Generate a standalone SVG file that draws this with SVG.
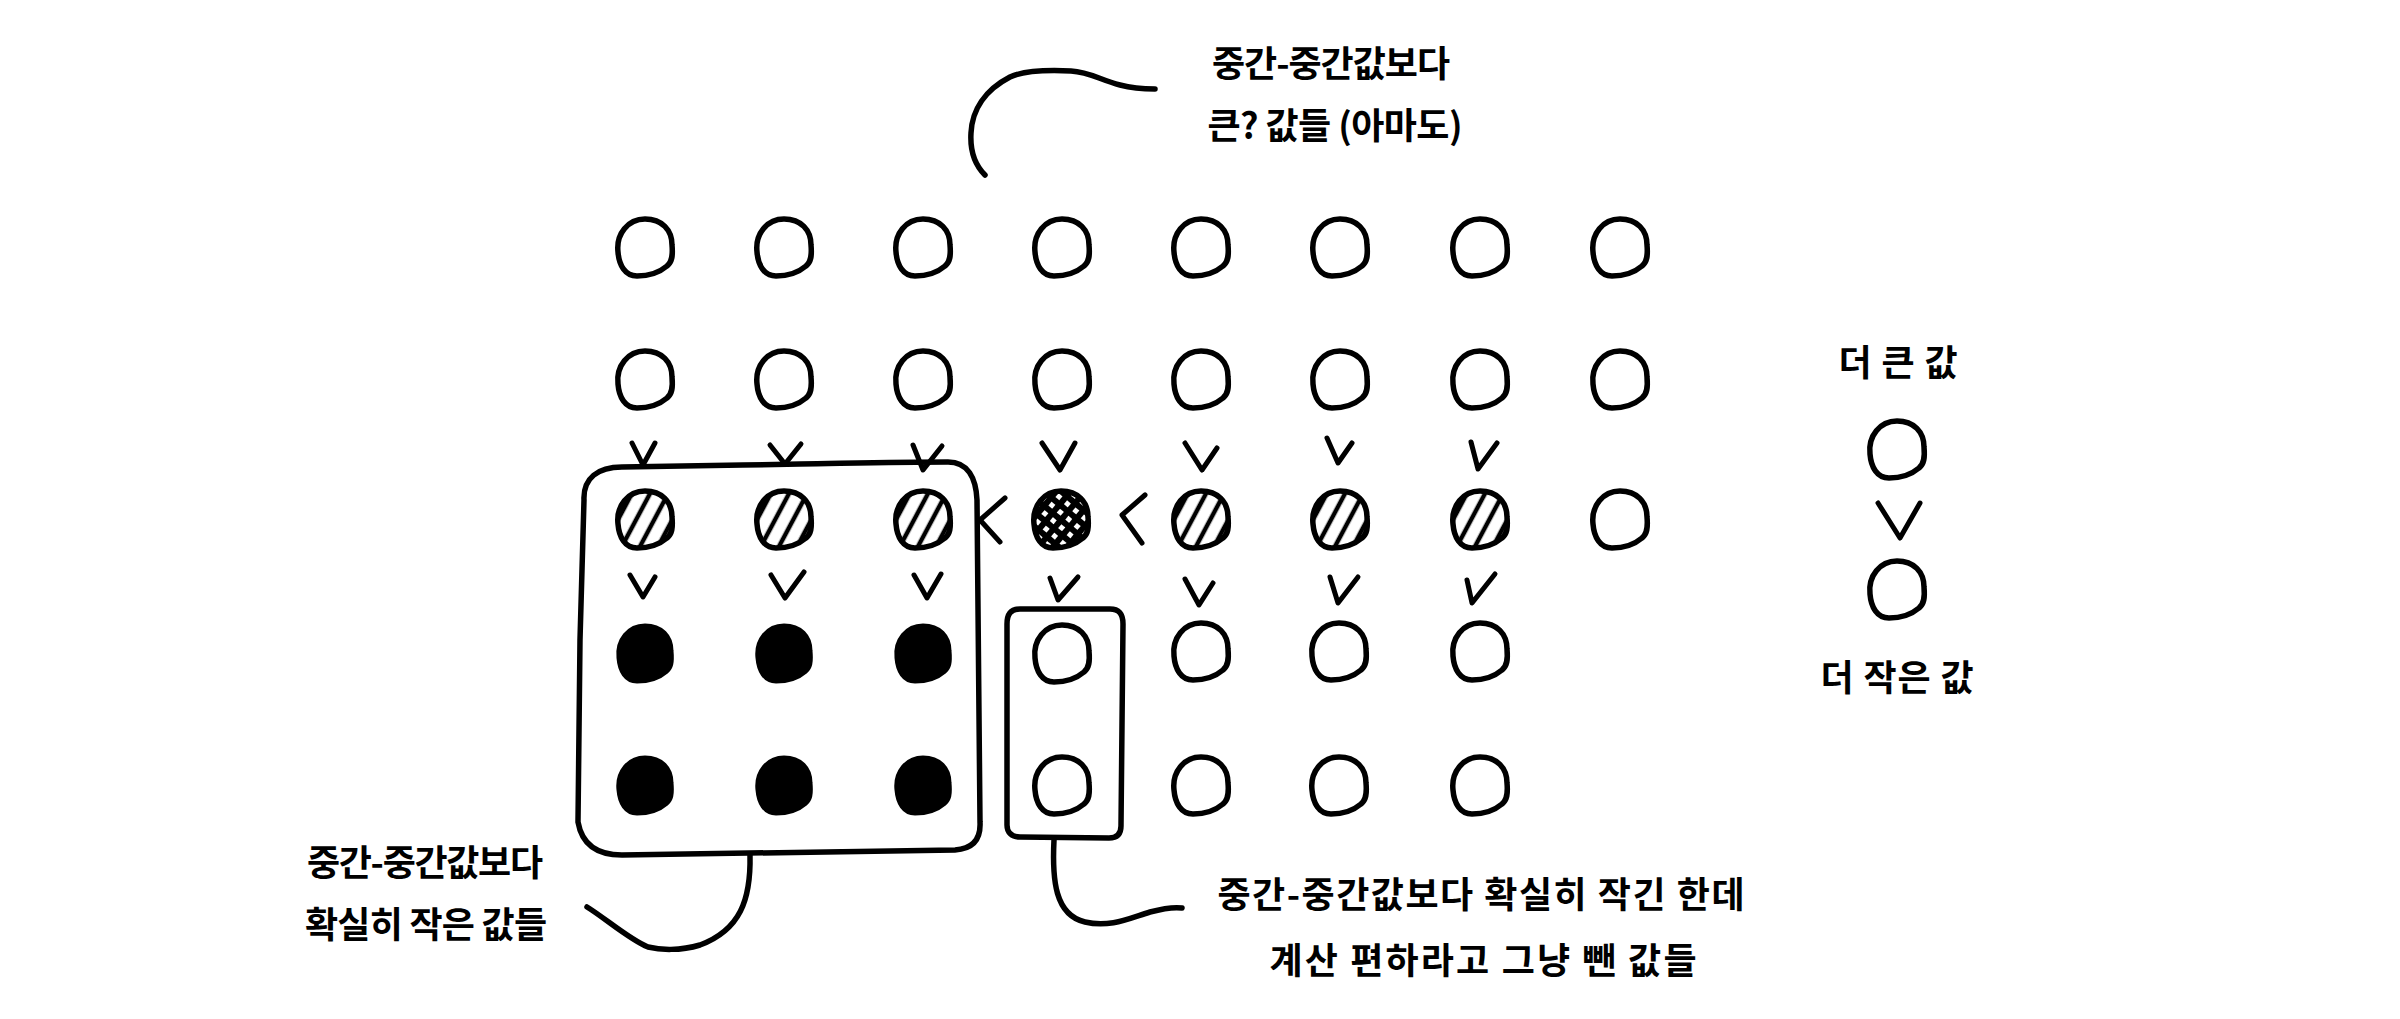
<svg xmlns="http://www.w3.org/2000/svg" xmlns:xlink="http://www.w3.org/1999/xlink" width="2400" height="1019" viewBox="0 0 2400 1019">
<style>
.bg{fill:#ffffff}
.ring{fill:#ffffff;stroke:#000;stroke-width:5.5;stroke-linejoin:round}
.hatched{fill:url(#hatch);stroke:#000;stroke-width:5.5;stroke-linejoin:round}
.cross{fill:url(#crosshatch);stroke:#000;stroke-width:5.5;stroke-linejoin:round}
.solid{fill:#000;stroke:#000;stroke-width:3}
.mark{fill:none;stroke:#000;stroke-width:5;stroke-linecap:round;stroke-linejoin:round}
.box{fill:none;stroke:#000;stroke-width:5.5;stroke-linecap:round;stroke-linejoin:round}
.line{fill:none;stroke:#000;stroke-width:5.5;stroke-linecap:round;stroke-linejoin:round}
.lbl{font-family:"Noto Sans CJK KR","Noto Sans",sans-serif;font-size:36px;font-weight:600;fill:#000;text-anchor:middle}
</style>
<defs>
<path id="blob" d="M -27,4 C -29,-14 -17,-29 0,-29 C 17,-29 27,-18 27,-3 C 28,8 27,14 22,18 C 15,24 4,28 -8,28 C -20,28 -26,17 -27,4 Z"/>
<pattern id="hatch" patternUnits="userSpaceOnUse" width="16" height="40" patternTransform="rotate(28)">
<rect width="16" height="40" fill="#fff"/>
<line x1="8" y1="0" x2="8" y2="40" stroke="#000" stroke-width="4.5"/>
</pattern>
<pattern id="crosshatch" patternUnits="userSpaceOnUse" width="11" height="11" patternTransform="rotate(40)">
<rect width="11" height="11" fill="#000"/>
<rect x="3" y="3" width="5" height="5" fill="#fff"/>
</pattern>
</defs>
<rect class="bg" x="0" y="0" width="2400" height="1019"/>

<g id="row1">
<g id="n1-1"><use href="#blob" class="ring" transform="translate(645,248)"/></g>
<g id="n1-2"><use href="#blob" class="ring" transform="translate(784,248)"/></g>
<g id="n1-3"><use href="#blob" class="ring" transform="translate(923,248)"/></g>
<g id="n1-4"><use href="#blob" class="ring" transform="translate(1062,248)"/></g>
<g id="n1-5"><use href="#blob" class="ring" transform="translate(1201,248)"/></g>
<g id="n1-6"><use href="#blob" class="ring" transform="translate(1340,248)"/></g>
<g id="n1-7"><use href="#blob" class="ring" transform="translate(1480,248)"/></g>
<g id="n1-8"><use href="#blob" class="ring" transform="translate(1620,248)"/></g>
</g>
<g id="row2">
<g id="n2-1"><use href="#blob" class="ring" transform="translate(645,380)"/></g>
<g id="n2-2"><use href="#blob" class="ring" transform="translate(784,380)"/></g>
<g id="n2-3"><use href="#blob" class="ring" transform="translate(923,380)"/></g>
<g id="n2-4"><use href="#blob" class="ring" transform="translate(1062,380)"/></g>
<g id="n2-5"><use href="#blob" class="ring" transform="translate(1201,380)"/></g>
<g id="n2-6"><use href="#blob" class="ring" transform="translate(1340,380)"/></g>
<g id="n2-7"><use href="#blob" class="ring" transform="translate(1480,380)"/></g>
<g id="n2-8"><use href="#blob" class="ring" transform="translate(1620,380)"/></g>
</g>
<g id="row3">
<g id="n3-1"><use href="#blob" class="hatched" transform="translate(645,520)"/></g>
<g id="n3-2"><use href="#blob" class="hatched" transform="translate(784,520)"/></g>
<g id="n3-3"><use href="#blob" class="hatched" transform="translate(923,520)"/></g>
<g id="n3-4"><use href="#blob" class="cross" transform="translate(1061,520)"/></g>
<g id="n3-5"><use href="#blob" class="hatched" transform="translate(1201,520)"/></g>
<g id="n3-6"><use href="#blob" class="hatched" transform="translate(1340,520)"/></g>
<g id="n3-7"><use href="#blob" class="hatched" transform="translate(1480,520)"/></g>
<g id="n3-8"><use href="#blob" class="ring" transform="translate(1620,520)"/></g>
</g>
<g id="row4">
<g id="n4-1"><use href="#blob" class="solid" transform="translate(645,654)"/></g>
<g id="n4-2"><use href="#blob" class="solid" transform="translate(784,654)"/></g>
<g id="n4-3"><use href="#blob" class="solid" transform="translate(923,654)"/></g>
<g id="n4-4"><use href="#blob" class="ring" transform="translate(1062,654)"/></g>
<g id="n4-5"><use href="#blob" class="ring" transform="translate(1201,652)"/></g>
<g id="n4-6"><use href="#blob" class="ring" transform="translate(1339,652)"/></g>
<g id="n4-7"><use href="#blob" class="ring" transform="translate(1480,652)"/></g>
</g>
<g id="row5">
<g id="n5-1"><use href="#blob" class="solid" transform="translate(645,786)"/></g>
<g id="n5-2"><use href="#blob" class="solid" transform="translate(784,786)"/></g>
<g id="n5-3"><use href="#blob" class="solid" transform="translate(923,786)"/></g>
<g id="n5-4"><use href="#blob" class="ring" transform="translate(1062,786)"/></g>
<g id="n5-5"><use href="#blob" class="ring" transform="translate(1201,786)"/></g>
<g id="n5-6"><use href="#blob" class="ring" transform="translate(1339,786)"/></g>
<g id="n5-7"><use href="#blob" class="ring" transform="translate(1480,786)"/></g>
</g>

<g id="group-smaller">
<path class="box" d="M 584,500 C 583,478 598,467 622,467 C 700,466 740,465 800,464 C 860,463 900,462 948,462 C 968,462 976,478 977,500 L 980,822 C 981,840 972,849 955,850 L 622,855 C 598,855 582,845 578,822 L 580,640 Z"/>
</g>
<g id="group-dropped">
<path class="box" d="M 1020,609 L 1110,609 C 1119,609 1123,614 1123,624 L 1121,826 C 1121,834 1117,838 1109,838 L 1020,837 C 1012,837 1007,833 1007,825 L 1007,624 C 1007,614 1011,609 1020,609 Z"/>
</g>

<g id="relations">
<path class="mark" d="M 632,443 L 643,465 L 655,443"/>
<path class="mark" d="M 770,445 L 785,464 L 801,444"/>
<path class="mark" d="M 913,445 L 923,470 L 942,446"/>
<path class="mark" d="M 1042,443 L 1060,470 L 1075,443"/>
<path class="mark" d="M 1185,443 L 1202,470 L 1217,448"/>
<path class="mark" d="M 1327,438 L 1338,463 L 1352,443"/>
<path class="mark" d="M 1471,442 L 1478,469 L 1497,443"/>

<path class="mark" d="M 630,575 L 643,597 L 655,577"/>
<path class="mark" d="M 771,575 L 785,598 L 804,572"/>
<path class="mark" d="M 914,575 L 927,598 L 941,574"/>
<path class="mark" d="M 1050,578 L 1058,600 L 1078,577"/>
<path class="mark" d="M 1185,579 L 1199,605 L 1213,583"/>
<path class="mark" d="M 1330,577 L 1338,603 L 1358,577"/>
<path class="mark" d="M 1467,580 L 1472,603 L 1495,574"/>

<path class="mark" d="M 1005,498 L 980,520 L 1000,542"/>
<path class="mark" d="M 1145,495 L 1122,515 L 1142,543"/>
</g>

<g id="connectors">
<path class="line" d="M 985,175 C 975,165 970,150 971,133 C 972,110 985,90 1010,77 C 1025,70 1050,70 1071,71 C 1090,72 1100,80 1120,85 C 1135,89 1148,89 1155,89"/>
<path class="line" d="M 750,855 C 751,900 740,930 700,945 C 680,951 660,950 648,947 C 630,940 605,918 587,907"/>
<path class="line" d="M 1054,840 C 1052,880 1055,915 1085,922 C 1110,928 1130,918 1150,912 C 1165,908 1175,907 1182,908"/>
</g>

<g id="label-top">
<text class="lbl" x="1331" y="77" textLength="238" lengthAdjust="spacing">중간-중간값보다</text>
<text class="lbl" x="1335" y="139" textLength="255" lengthAdjust="spacing">큰? 값들 (아마도)</text>
</g>
<g id="label-left">
<text class="lbl" x="425" y="876" textLength="236" lengthAdjust="spacing">중간-중간값보다</text>
<text class="lbl" x="426" y="938" textLength="242" lengthAdjust="spacing">확실히 작은 값들</text>
</g>
<g id="label-center">
<text class="lbl" x="1481" y="908" textLength="527" lengthAdjust="spacing">중간-중간값보다 확실히 작긴 한데</text>
<text class="lbl" x="1483" y="974" textLength="427" lengthAdjust="spacing">계산 편하라고 그냥 뺀 값들</text>
</g>

<g id="legend">
<text class="lbl" x="1898" y="376" textLength="119" lengthAdjust="spacing">더 큰 값</text>
<g id="legend-big"><use href="#blob" class="ring" transform="translate(1897,450)"/></g>
<path class="mark" d="M 1878,503 L 1900,538 L 1920,503"/>
<g id="legend-small"><use href="#blob" class="ring" transform="translate(1897,590)"/></g>
<text class="lbl" x="1897" y="691" textLength="153" lengthAdjust="spacing">더 작은 값</text>
</g>
</svg>
